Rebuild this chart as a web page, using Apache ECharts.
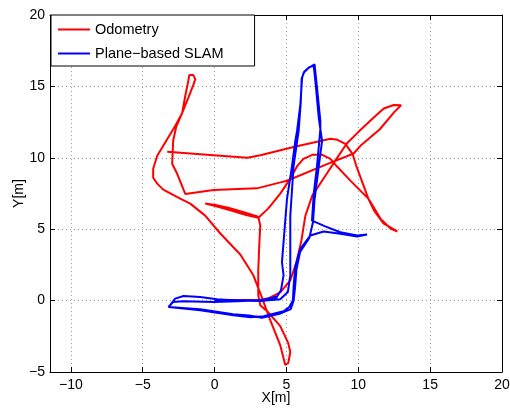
<!DOCTYPE html>
<html>
<head>
    <title>Odometry vs Plane-based SLAM</title>
    <meta charset="utf-8" />
    <script src="https://cdn.jsdelivr.net/npm/echarts@6.0.0/dist/echarts.min.js"></script>
    <style type="text/css">
        html,
        body {
            margin: 0;
            padding: 0;
            background: #fff;
        }

        #chart {
            width: 510px;
            height: 410px;
        }
    </style>
</head>
<body>
    <div id="chart"></div>
    <script>
        // tick values
        var xTicks = [-10, -5, 0, 5, 10, 15, 20];
        var yTicks = [-5, 0, 5, 10, 15, 20];

        // odometry trajectory (red)
        var odomX = [0, 1.8, 3.05, 3.74, 4.57, 5.27, 5.69, 6.04, 6.32, 6.8, 7.71, 8.6, 9.2, 10.0, 11.0, 11.77, 12.47, 12.98, 13.1,
            12.5, 11.5, 10.15, 9.68, 7.83, 5.04, 4.58, 2.95, -0.07, -2.04,
            -2.6, -2.95, -2.88, -2.67, -2.25, -1.83, -1.48, -1.34, -1.48, -1.76,
            -1.83, -2.04, -2.25, -2.74, -3.57, -3.99, -4.27, -4.27, -3.99, -3.57, -2.39, -1.69,
            -0.65, 0.4, 1.79, 2.7, 3.32, 3.88, 4.57, 4.92,
            5.13, 5.27, 5.13, 4.57, 3.74, 3.18, 3.04, 3.04, 3.11, 3.18, 3.04,
            2.15, 0.95, 0.05, -0.65, 0.05, 1.1, 2.2, 3.05,
            3.73, 4.57, 5.27, 5.76, 6.18, 6.8, 7.5, 8.06, 8.54, 9.45, 10.7, 11.54, 12.24, 12.72,
            11.75, 11.1, 10.7, 10.29, 9.86, 9.6, 9.1, 8.55, 8.06, 5.5, 3.18, 2.28, -0.3, -3.29];
        var odomY = [0, 0.05, 0.03, 0.16, 0.58, 1.42, 2.67, 4.2, 5.95, 7.35, 8.74, 10.1, 11.0, 11.8, 12.75, 13.45, 13.7, 13.68, 13.55,
            13.2, 12.0, 10.84, 10.3, 9.56, 8.39, 8.28, 7.86, 7.75, 7.47,
            8.88, 9.58, 11.19, 12.16, 13.14, 14.19, 15.09, 15.51, 15.79, 15.79,
            15.37, 14.33, 13.14, 12.23, 10.84, 10.14, 9.23, 8.6, 8.19, 7.77, 7.14, 6.79,
            5.95, 4.7, 3.23, 1.77, 0.16, -1.38, -3.12, -4.51,
            -4.37, -3.6, -2.98, -1.79, -0.82, -0.33, 0.37, 2.11, 3.86, 5.26, 5.88,
            6.15, 6.5, 6.7, 6.8, 6.62, 6.33, 6.0, 5.8,
            6.44, 7.49, 8.54, 9.44, 9.93, 10.21, 10.21, 9.93, 9.37, 8.4, 7.14, 5.74, 5.05, 4.84,
            5.4, 6.3, 7.14, 8.26, 9.44, 10.28, 10.98, 11.26, 11.33, 10.75, 10.18, 10.0, 10.2, 10.42];

        // plane-based SLAM trajectory (blue)
        var slamX = [0, 1.56, 3.18, 4.3, 4.62, 4.8, 4.69, 4.8, 5.04, 5.39, 5.62, 5.74, 5.97, 6.09, 6.2, 6.55, 6.96,
            7.13, 7.36, 7.36, 7.13, 6.9, 6.78, 7.7, 8.75, 9.92, 10.61, 9.92, 8.75, 7.59, 6.66,
            5.97, 5.62, 5.5, 5.45, 5.2, 4.8, 3.41, 2.49, 1.32, -1.0, -3.2,
            -2.74, -2.16, -1.0, 0.17, 1.56, 3.18, 4.57,
            5.1, 5.27, 5.27, 5.5, 5.85, 6.0, 6.06, 6.25, 6.6, 6.9,
            7.05, 7.25, 7.48, 7.2, 6.95, 6.85, 6.6, 5.95, 5.7, 5.6, 5.5, 5.3, 4.6, 3.3, 2.4, 1.3, -1.0, -3.2,
            -2.9, -2.16, -0.07, 1.6, 3.4, 4.4];
        var slamY = [0, 0.02, 0.03, 0.2, 0.72, 1.77, 2.69, 4.09, 7.12, 9.44, 11.19, 11.88, 13.75, 15.6, 15.95, 16.3, 16.54,
            14.9, 12.58, 12.0, 9.44, 7.5, 5.6, 5.2, 4.79, 4.56, 4.63, 4.48, 4.68, 4.84, 4.56,
            3.63, 2.4, 1.0, 0.0, -0.45, -0.75, -1.1, -1.17, -1.03, -0.68, -0.45,
            0.14, 0.32, 0.25, 0.09, 0.0, -0.02, 0.1,
            0.6, 1.77, 5.95, 9.44, 11.88, 13.9, 15.55, 16.05, 16.35, 16.45,
            15.0, 12.8, 11.19, 9.0, 7.0, 5.5, 4.4, 3.4, 2.2, 0.9, 0.0, -0.6, -0.9, -1.2, -1.05, -0.95, -0.6, -0.45,
            -0.1, -0.05, -0.1, -0.05, 0.05, 0.3];

        function pairs(xs, ys) {
            return xs.map(function (x, i) {
                return [x, ys[i]];
            });
        }

        function minusSign(v) {
            return String(v).replace('-', '\u2212');
        }

        var font = "'Liberation Sans', Arial, Helvetica, sans-serif";
        var gridDot = { color: '#a0a0a0', width: 1, type: [1, 3] };
        var black = { color: '#000', width: 1 };

        var chart = echarts.init(document.getElementById('chart'), null, { renderer: 'canvas' });

        var option = {
            animation: false,
            backgroundColor: '#fff',
            textStyle: { fontFamily: font },
            grid: {
                left: 50,
                top: 15,
                right: 8,
                bottom: 38,
                containLabel: false,
                outerBoundsMode: 'none'
            },
            legend: {
                orient: 'vertical',
                left: 51,
                top: 15,
                padding: [7, 31, 5, 7],
                itemGap: 9,
                itemWidth: 32,
                itemHeight: 2,
                icon: 'rect',
                backgroundColor: '#fff',
                borderColor: '#000',
                borderWidth: 1,
                textStyle: { fontFamily: font, fontSize: 14.5, color: '#000', lineHeight: 14 },
                data: ['Odometry', 'Plane\u2212based SLAM']
            },
            xAxis: [{
                type: 'value',
                min: -11.45,
                max: 20,
                name: 'X[m]',
                nameLocation: 'middle',
                nameGap: 19,
                nameMoveOverlap: false,
                nameTextStyle: { fontFamily: font, fontSize: 14, color: '#000' },
                axisLine: { show: true, onZero: false, lineStyle: black },
                axisTick: { show: true, inside: true, length: 5, customValues: xTicks, lineStyle: black },
                axisLabel: {
                    customValues: xTicks,
                    margin: 6,
                    fontFamily: font,
                    fontSize: 14,
                    color: '#000',
                    formatter: minusSign
                },
                splitLine: { show: true, lineStyle: gridDot }
            }, {
                type: 'value',
                position: 'top',
                min: -11.45,
                max: 20,
                axisLine: { show: true, onZero: false, lineStyle: black },
                axisTick: { show: true, inside: true, length: 5, customValues: xTicks, lineStyle: black },
                axisLabel: { show: false },
                splitLine: { show: false }
            }],
            yAxis: [{
                type: 'value',
                min: -5,
                max: 20,
                interval: 5,
                name: 'Y[m]',
                nameLocation: 'middle',
                nameGap: 24,
                nameMoveOverlap: false,
                nameTextStyle: { fontFamily: font, fontSize: 14, color: '#000' },
                axisLine: { show: true, onZero: false, lineStyle: black },
                axisTick: { show: true, inside: true, length: 5, lineStyle: black },
                axisLabel: {
                    margin: 5,
                    fontFamily: font,
                    fontSize: 14,
                    color: '#000',
                    formatter: minusSign
                },
                splitLine: { show: true, lineStyle: gridDot }
            }, {
                type: 'value',
                position: 'right',
                min: -5,
                max: 20,
                interval: 5,
                axisLine: { show: true, onZero: false, lineStyle: black },
                axisTick: { show: true, inside: true, length: 5, lineStyle: black },
                axisLabel: { show: false },
                splitLine: { show: false }
            }],
            series: [{
                name: 'Odometry',
                type: 'line',
                xAxisIndex: 0,
                yAxisIndex: 0,
                symbol: 'none',
                color: '#ff0000',
                lineStyle: { color: '#ff0000', width: 2 },
                data: pairs(odomX, odomY)
            }, {
                name: 'Plane\u2212based SLAM',
                type: 'line',
                xAxisIndex: 0,
                yAxisIndex: 0,
                symbol: 'none',
                color: '#0000ff',
                lineStyle: { color: '#0000ff', width: 2 },
                data: pairs(slamX, slamY)
            }]
        };

        chart.setOption(option);
    </script>
</body>
</html>
